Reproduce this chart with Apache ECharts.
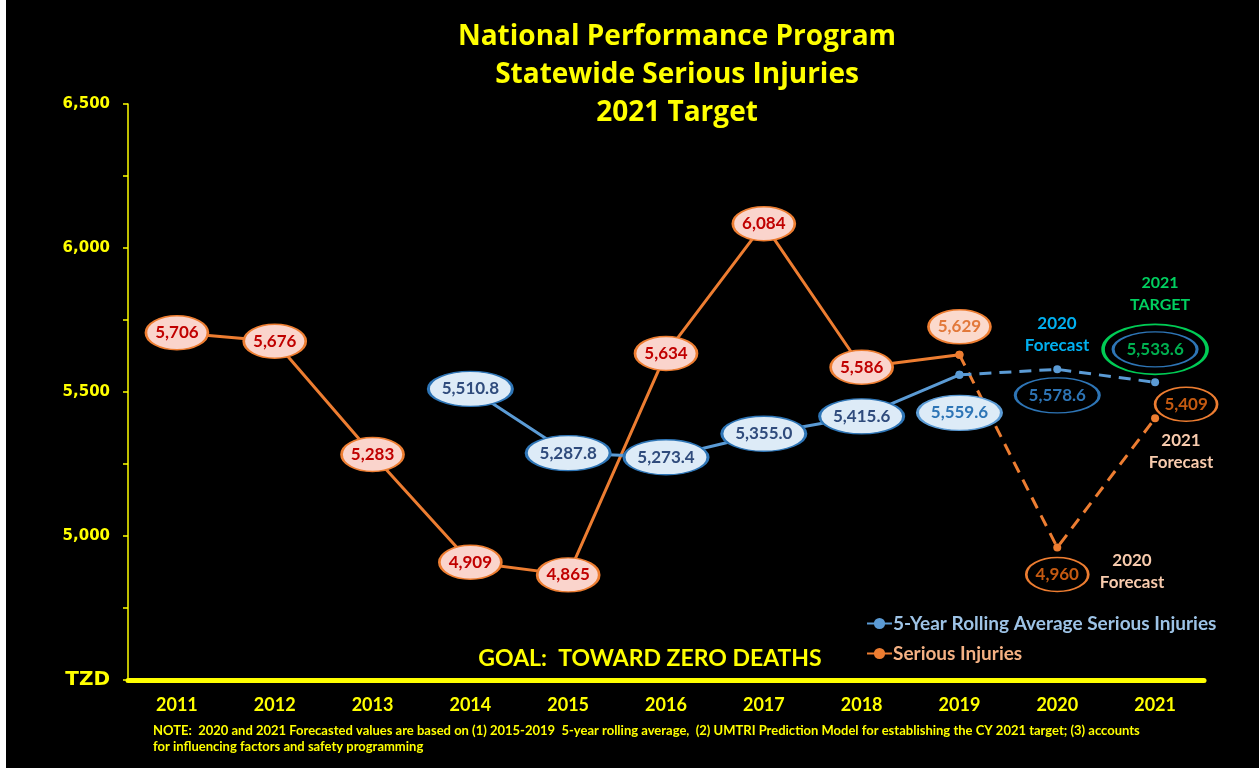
<!DOCTYPE html>
<html>
<head>
<meta charset="utf-8">
<script src="https://cdn.jsdelivr.net/npm/echarts@6/dist/echarts.min.js"></script>
<style>
  html, body { margin: 0; padding: 0; background: #ffffff; }
  #chart { position: absolute; left: 6px; top: 0; width: 1253px; height: 768px; background: #000000; }
</style>
</head>
<body>
<div id="chart"></div>
<script>
// ---- data ----
const years = ['2011','2012','2013','2014','2015','2016','2017','2018','2019','2020','2021'];
const seriousInjuries = [5706, 5676, 5283, 4909, 4865, 5634, 6084, 5586, 5629];     // 2011-2019
const seriousInjuriesForecast = [4960, 5409];                                        // 2020-2021
const rollingAverage = [5510.8, 5287.8, 5273.4, 5355.0, 5415.6, 5559.6];            // 2014-2019
const rollingAverageForecast = [5578.6, 5533.6];                                     // 2020-2021
const yTickValues = [4500, 5000, 5500, 6000, 6500];
const yTickLabels = ['TZD', '5,000', '5,500', '6,000', '6,500'];

// ---- derived series ----
const lastActual = 8; // index of 2019
const raFirst = years.indexOf('2014');
const siSolid = years.map((y, i) => i <= lastActual ? seriousInjuries[i] : null);
const siDash = years.map((y, i) => i === lastActual ? seriousInjuries[i] : (i > lastActual ? seriousInjuriesForecast[i - lastActual - 1] : null));
const raSolid = years.map((y, i) => (i >= raFirst && i <= lastActual) ? rollingAverage[i - raFirst] : null);
const raDash = years.map((y, i) => i === lastActual ? rollingAverage[i - raFirst] : (i > lastActual ? rollingAverageForecast[i - lastActual - 1] : null));
const siAll = years.map((y, i) => i <= lastActual ? seriousInjuries[i] : seriousInjuriesForecast[i - lastActual - 1]);
const raAll = years.map((y, i) => i < raFirst ? null : (i <= lastActual ? rollingAverage[i - raFirst] : rollingAverageForecast[i - lastActual - 1]));

// ---- styles ----
const YEL = '#FFFF00';
const ORANGE = '#ED7D31';
const BLUE = '#5B9BD5';
const FONT = 'Lato';
const siStyle = {
  8: { fill: '#FBD9CC', text: '#E2783A', offset: [0, -28] },
  9: { fill: '#000000', text: '#C55A11', offset: [0, 27] },
  10: { fill: '#000000', text: '#C55A11', offset: [31, -14] }
};
const raStyle = {
  8: { fill: '#DDEBF7', border: '#5B9BD5', text: '#2E75B6', offset: [0, 38] },
  9: { fill: '#000000', border: '#2E75B6', text: '#2E75B6', offset: [0, 26] },
  10: { fill: '#000000', border: '#2E75B6', text: '#00B050', offset: [0, -33] }
};
const fmt0 = v => v.toLocaleString('en-US', { maximumFractionDigits: 0 });
const fmt1 = v => v.toLocaleString('en-US', { minimumFractionDigits: 1, maximumFractionDigits: 1 });

const siBubbles = [];
siAll.forEach((v, i) => {
  if (v == null) return;
  const s = siStyle[i] || { fill: '#FAD4CC', text: '#C00000', offset: [0, 0] };
  siBubbles.push({
    value: [years[i], v],
    symbolOffset: s.offset,
    itemStyle: { color: s.fill, borderColor: ORANGE, borderWidth: 2, opacity: 1 },
    label: { color: s.text, formatter: fmt0(v) }
  });
});
const raBubbles = [];
raAll.forEach((v, i) => {
  if (v == null) return;
  const s = raStyle[i] || { fill: '#DDEBF7', border: '#2E75B6', text: '#2F4B7C', offset: [0, 0] };
  raBubbles.push({
    value: [years[i], v],
    symbolOffset: s.offset,
    itemStyle: { color: s.fill, borderColor: s.border, borderWidth: 2, opacity: 1 },
    label: { color: s.text, formatter: fmt1(v) }
  });
});
const targetIdx = years.length - 1;
const targetRing = [{ value: [years[targetIdx], raAll[targetIdx]], symbolOffset: raStyle[targetIdx].offset }];

const chart = echarts.init(document.getElementById('chart'), null, { renderer: 'canvas' });
const X0 = 6; // container offset in page

chart.setOption({
  animation: false,
  backgroundColor: '#000000',
  title: {
    text: 'National Performance Program\nStatewide Serious Injuries\n2021 Target',
    left: 672 - X0, top: 13, textAlign: 'center',
    textStyle: { color: YEL, fontFamily: 'Open Sans', fontWeight: 'bold', fontSize: 28, lineHeight: 38 }
  },
  grid: { left: 128 - X0, right: 1253 - (1204 - X0), top: 104, bottom: 88, containLabel: false },
  legend: {
    orient: 'vertical', left: 866 - X0, top: 614, padding: 0,
    itemWidth: 25, itemHeight: 14, itemGap: 11,
    data: [
      { name: '5-Year Rolling Average Serious Injuries', textStyle: { color: '#9DC3E6' } },
      { name: 'Serious Injuries', textStyle: { color: '#F4B183' } }
    ],
    textStyle: { fontFamily: FONT, fontWeight: 'bold', fontSize: 19, padding: [0, 0, 0, -4] }
  },
  xAxis: {
    type: 'category', data: years, boundaryGap: true,
    axisLine: { lineStyle: { color: YEL, width: 5 } },
    axisTick: { show: false },
    axisLabel: { color: YEL, fontFamily: FONT, fontWeight: 'bold', fontSize: 18, margin: 16 },
    splitLine: { show: false }
  },
  yAxis: {
    type: 'value', min: 4500, max: 6500, interval: 250,
    axisLine: { show: true, lineStyle: { color: YEL, width: 1.5 } },
    axisTick: { show: true, length: 5, lineStyle: { color: YEL, width: 1.5 } },
    splitLine: { show: false },
    axisLabel: {
      margin: 18,
      formatter: v => {
        const k = yTickValues.indexOf(v);
        if (k < 0) return '';
        return k === 0 ? '{t|' + yTickLabels[k] + '}' : '{n|' + yTickLabels[k] + '}';
      },
      rich: {
        n: { color: YEL, fontFamily: 'DejaVu Sans', fontWeight: 'bold', fontSize: 15 },
        t: { color: YEL, fontFamily: 'DejaVu Sans', fontWeight: 'bold', fontSize: 20 }
      }
    }
  },
  series: [
    {
      name: '5-Year Rolling Average Serious Injuries', type: 'line', data: raSolid,
      color: BLUE, lineStyle: { color: BLUE, width: 3 }, symbol: 'circle', symbolSize: 8,
      itemStyle: { color: BLUE }, z: 3
    },
    {
      name: 'raForecast', type: 'line', data: raDash,
      lineStyle: { color: BLUE, width: 3, type: [12, 8] }, symbol: 'circle', symbolSize: 8,
      itemStyle: { color: BLUE }, z: 3
    },
    {
      name: 'Serious Injuries', type: 'line', data: siSolid,
      color: ORANGE, lineStyle: { color: ORANGE, width: 3 }, symbol: 'circle', symbolSize: 8,
      itemStyle: { color: ORANGE }, z: 2
    },
    {
      name: 'siForecast', type: 'line', data: siDash,
      lineStyle: { color: ORANGE, width: 3, type: [12, 8] }, symbol: 'circle', symbolSize: 8,
      itemStyle: { color: ORANGE }, z: 2
    },
    {
      name: 'siBubbles', type: 'scatter', data: siBubbles, symbol: 'circle', symbolSize: [62, 34], z: 5,
      label: { show: true, position: 'inside', fontFamily: FONT, fontWeight: 'bold', fontSize: 17 },
      emphasis: { disabled: true }
    },
    {
      name: 'raBubbles', type: 'scatter', data: raBubbles, symbol: 'circle', symbolSize: [84, 35], z: 6,
      label: { show: true, position: 'inside', fontFamily: FONT, fontWeight: 'bold', fontSize: 17 },
      emphasis: { disabled: true }
    },
    {
      name: 'targetRing', type: 'scatter', data: targetRing, symbol: 'circle', symbolSize: [104, 50], z: 6,
      itemStyle: { color: 'rgba(0,0,0,0)', borderColor: '#00CC55', borderWidth: 2.5, opacity: 1 },
      emphasis: { disabled: true }
    }
  ],
  graphic: [
    { type: 'text', x: 1057 - X0, y: 335, style: { text: '2020\nForecast', fill: '#00B0F0', font: 'bold 17px Lato', lineHeight: 22, align: 'center', verticalAlign: 'middle' } },
    { type: 'text', x: 1160 - X0, y: 294, style: { text: '2021\nTARGET', fill: '#00D060', font: 'bold 16px Lato', lineHeight: 22, align: 'center', verticalAlign: 'middle' } },
    { type: 'text', x: 1181 - X0, y: 452, style: { text: '2021\nForecast', fill: '#F8CBAD', font: 'bold 17px Lato', lineHeight: 22, align: 'center', verticalAlign: 'middle' } },
    { type: 'text', x: 1132 - X0, y: 572, style: { text: '2020\nForecast', fill: '#F8CBAD', font: 'bold 17px Lato', lineHeight: 22, align: 'center', verticalAlign: 'middle' } },
    { type: 'text', x: 650 - X0, y: 659, style: { text: 'GOAL:  TOWARD ZERO DEATHS', fill: YEL, font: 'bold 23px Lato', align: 'center', verticalAlign: 'middle' } },
    { type: 'text', x: 153 - X0, y: 739, style: { text: 'NOTE:  2020 and 2021 Forecasted values are based on (1) 2015-2019  5-year rolling average,  (2) UMTRI Prediction Model for establishing the CY 2021 target; (3) accounts\nfor influencing factors and safety programming', fill: YEL, font: 'bold 13px Lato', lineHeight: 16, align: 'left', verticalAlign: 'middle' } }
  ]
});
</script>
</body>
</html>
